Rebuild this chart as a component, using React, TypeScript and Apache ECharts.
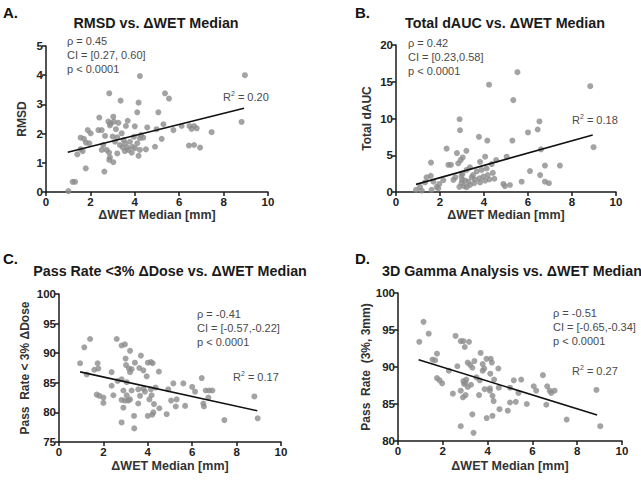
import React, { useEffect, useRef } from "react";
import * as echarts from "echarts";

// ---- Data ----
const xTicksMax = 10;

const rmsdPoints: number[][] = [
  [4.23, 3.97], [8.96, 4.0], [2.85, 3.38], [3.36, 3.13], [4.17, 3.06], [5.36, 3.38], [5.54, 3.2],
  [4.11, 2.73], [5.06, 2.73], [2.4, 2.55], [3.03, 2.58], [2.81, 2.41], [3.06, 2.41], [2.91, 2.35],
  [3.26, 2.37], [3.68, 2.44], [2.88, 2.28], [2.36, 2.12], [2.51, 2.12], [1.88, 2.12], [2.01, 2.01],
  [1.56, 1.86], [1.71, 1.82], [1.8, 1.69], [1.95, 1.67], [1.56, 1.47], [1.41, 1.29], [1.65, 1.4],
  [1.2, 0.35], [1.31, 0.35], [1.01, 0.03], [1.79, 0.81], [2.63, 0.7], [2.73, 1.44], [2.84, 1.35],
  [2.88, 1.19], [2.85, 1.1], [3.03, 1.02], [3.21, 1.32], [3.11, 1.72], [3.21, 1.87], [3.41, 2.01],
  [3.33, 1.61], [3.45, 1.53], [3.56, 1.67], [3.66, 1.53], [3.71, 1.44], [3.78, 1.72], [3.86, 1.35],
  [3.96, 1.89], [4.01, 1.5], [4.11, 1.67], [4.23, 1.84], [4.28, 1.95], [4.38, 1.86], [4.23, 1.44],
  [4.17, 1.24], [4.5, 1.46], [4.56, 2.21], [4.98, 2.15], [4.91, 1.55], [5.21, 1.82], [5.29, 2.32],
  [5.74, 2.12], [6.11, 2.26], [6.46, 2.26], [6.67, 2.26], [6.79, 2.18], [6.56, 2.16], [6.44, 1.59],
  [6.67, 1.61], [6.94, 1.52], [7.46, 2.05], [8.81, 2.4], [3.15, 2.15], [3.6, 2.26], [2.66, 1.92],
  [2.58, 1.61], [2.51, 1.44], [3.5, 1.78], [3.9, 1.55], [3.0, 1.9], [4.0, 2.25], [3.55, 1.4],
];

const daucPoints: number[][] = [
  [5.52, 16.3], [4.23, 14.6], [8.83, 14.4], [5.33, 12.5], [2.89, 9.9], [2.91, 8.4], [6.52, 9.6],
  [6.44, 8.5], [6.0, 8.1], [3.77, 7.5], [4.15, 7.0], [5.29, 7.0], [8.98, 6.1], [2.3, 5.9],
  [3.2, 5.6], [2.77, 5.3], [3.03, 4.7], [2.94, 4.35], [4.05, 4.8], [5.03, 4.8], [6.59, 5.8],
  [2.38, 3.7], [2.5, 3.7], [1.59, 4.0], [2.83, 3.9], [3.82, 4.1], [4.55, 4.35], [4.35, 3.8],
  [3.36, 3.35], [3.21, 3.0], [3.02, 2.5], [3.67, 2.8], [3.89, 3.0], [4.12, 3.2], [6.09, 2.85],
  [6.77, 3.6], [7.45, 3.6], [6.55, 2.3], [6.77, 1.4], [6.95, 1.2], [5.71, 1.4], [5.18, 0.95],
  [4.88, 1.1], [4.95, 0.8], [4.47, 1.8], [4.17, 2.3], [3.97, 2.1], [3.79, 1.85], [3.59, 1.7],
  [3.44, 2.0], [3.29, 1.4], [3.14, 1.55], [2.98, 1.2], [3.09, 0.8], [2.88, 0.7], [3.36, 0.95],
  [2.61, 1.65], [2.98, 2.2], [4.05, 1.55], [4.24, 1.7], [3.82, 1.3], [3.55, 1.2], [3.21, 0.65],
  [1.58, 2.2], [1.39, 2.0], [1.7, 1.4], [1.32, 1.3], [1.85, 0.7], [1.97, 1.1], [1.09, 0.7],
  [0.91, 0.3], [1.17, 0.2], [1.62, 0.3], [1.92, 0.5], [2.15, 1.6], [3.5, 2.3], [2.7, 2.0],
  [4.4, 2.6], [3.0, 1.7],
];

const doseRatePoints: number[][] = [
  [1.4, 92.4], [1.14, 91.0], [2.6, 92.4], [2.82, 91.3], [2.97, 91.5], [3.2, 90.4], [3.69, 89.6],
  [3.0, 89.1], [0.95, 88.3], [1.74, 88.3], [3.42, 88.4], [3.02, 88.0], [4.0, 88.4], [4.14, 88.5],
  [4.22, 88.3], [3.62, 87.5], [1.77, 87.4], [1.59, 87.2], [3.15, 87.4], [3.27, 87.3], [3.8, 87.1],
  [3.2, 86.8], [4.5, 86.9], [2.37, 86.8], [1.25, 86.4], [6.43, 85.8], [5.6, 84.9], [5.15, 84.9],
  [6.0, 84.3], [6.13, 83.5], [6.61, 83.7], [6.76, 83.7], [6.91, 83.7], [6.5, 81.5], [6.53, 81.0],
  [6.73, 82.5], [8.8, 82.7], [8.95, 79.0], [7.45, 78.7], [4.92, 83.9], [5.05, 82.0], [5.3, 82.2],
  [5.26, 81.0], [5.68, 81.1], [4.85, 79.7], [4.52, 80.7], [4.25, 80.0], [4.2, 79.6], [4.0, 79.4],
  [4.35, 84.2], [4.14, 83.9], [4.17, 82.9], [4.07, 82.2], [4.28, 81.4], [3.8, 84.0], [3.57, 83.9],
  [3.65, 82.8], [3.87, 83.5], [3.57, 81.5], [3.38, 79.4], [3.39, 77.3], [2.82, 78.3], [2.9, 80.8],
  [2.97, 82.0], [3.05, 82.9], [3.12, 82.0], [2.82, 82.1], [3.2, 82.2], [3.05, 85.1], [2.82, 85.6],
  [2.64, 85.3], [2.37, 84.5], [2.45, 82.9], [1.7, 83.0], [1.82, 82.8], [2.0, 82.5], [2.0, 81.6],
  [2.9, 83.7], [3.27, 83.7], [3.95, 86.1],
];

const gammaRatePoints: number[][] = [
  [1.14, 96.1], [0.95, 93.4], [1.37, 94.5], [2.57, 94.2], [2.8, 93.5], [2.92, 93.5], [3.17, 93.4],
  [2.98, 92.7], [3.69, 91.9], [1.74, 91.8], [1.54, 91.0], [1.66, 90.9], [2.27, 89.5], [1.74, 88.5],
  [1.86, 88.2], [1.97, 87.8], [2.45, 86.4], [2.65, 90.1], [3.11, 90.6], [3.22, 90.3], [3.41, 90.8],
  [3.32, 89.9], [3.78, 90.4], [3.95, 91.1], [4.14, 91.1], [4.19, 90.6], [4.48, 89.8], [3.78, 89.5],
  [4.12, 89.1], [2.92, 88.1], [3.05, 88.3], [2.95, 87.7], [3.11, 87.3], [3.26, 87.6], [3.65, 88.2],
  [3.62, 86.2], [3.87, 87.0], [4.1, 87.1], [4.1, 86.8], [4.22, 86.1], [4.27, 85.4], [4.5, 87.2],
  [2.8, 86.8], [2.9, 85.9], [3.02, 86.2], [4.53, 84.3], [4.9, 84.1], [5.0, 85.2], [5.26, 85.3],
  [5.17, 88.2], [5.5, 88.3], [5.0, 87.2], [5.38, 86.5], [5.75, 85.0], [6.06, 87.4], [6.17, 86.8],
  [6.47, 88.9], [6.66, 87.4], [6.77, 86.8], [6.84, 86.5], [6.99, 86.8], [6.62, 84.9], [7.53, 82.9],
  [8.86, 86.9], [9.03, 82.0], [3.32, 83.6], [2.8, 82.0], [3.37, 81.1], [3.96, 83.1], [4.22, 83.4],
  [4.29, 88.3], [3.5, 88.6], [3.0, 87.9], [3.85, 89.8],
];

// regression line end points
const rmsdFit: number[][] = [[0.98, 1.36], [8.92, 2.87]];
const daucFit: number[][] = [[0.91, 1.04], [8.94, 7.76]];
const doseRateFit: number[][] = [[0.95, 86.85], [8.93, 80.28]];
const gammaRateFit: number[][] = [[0.92, 90.99], [8.89, 83.51]];

const panelLetters = ["A.", "B.", "C.", "D."];
const panelTitles = [
  "RMSD vs. \u0394WET Median",
  "Total dAUC vs. \u0394WET Median",
  "Pass Rate <3% \u0394Dose vs. \u0394WET Median",
  "3D Gamma Analysis vs. \u0394WET Median",
];
const xAxisName = "\u0394WET Median [mm]";
const yAxisNames = ["RMSD", "Total dAUC", "Pass  Rate < 3% \u0394Dose", "Pass  Rate  (3%, 3mm)"];
const statsTexts = [
  ["\u03c1 = 0.45", "CI = [0.27, 0.60]", "p < 0.0001"],
  ["\u03c1 = 0.42", "CI = [0.23,0.58]", "p < 0.0001"],
  ["\u03c1 = -0.41", "CI = [-0.57,-0.22]", "p < 0.0001"],
  ["\u03c1 = -0.51", "CI = [-0.65,-0.34]", "p < 0.0001"],
];
const r2Texts = ["0.20", "0.18", "0.17", "0.27"];
const yRanges = [
  { min: 0, max: 5, interval: 1 },
  { min: 0, max: 20, interval: 5 },
  { min: 75, max: 100, interval: 5 },
  { min: 80, max: 100, interval: 5 },
];

const pointSets = [rmsdPoints, daucPoints, doseRatePoints, gammaRatePoints];
const fitSets = [rmsdFit, daucFit, doseRateFit, gammaRateFit];

// ---- layout ----
const grids = [
  { left: 46, top: 46, width: 222, height: 146 },
  { left: 396, top: 45, width: 220, height: 147 },
  { left: 59, top: 294, width: 222, height: 148 },
  { left: 398, top: 293, width: 224, height: 148 },
];
const yNameGaps = [18, 23, 28, 24];
const xNameGaps = [13, 13, 17, 18];
const letterPos = [[3, 12], [355, 12], [3, 258], [355, 258]];
const titlePos = [[156, 23], [505, 23], [170, 271], [512, 271]];
const statsPos = [[67, 41], [408, 43], [197, 314], [553, 313]];
const r2Pos = [[223, 97], [572, 120], [233, 377], [572, 371]];

const FONT = "'Liberation Sans', Arial, sans-serif";
const AXIS_COLOR = "#1a1a1a";
const STAT_COLOR = "#4a4a4a";

export default function App() {
  const ref = useRef<HTMLDivElement>(null);

  useEffect(() => {
    document.body.style.margin = "0";
    if (!ref.current) return;
    const chart = echarts.init(ref.current, undefined, { renderer: "svg" });

    const xAxis = grids.map((_, i) => ({
      type: "value",
      gridIndex: i,
      min: 0,
      max: xTicksMax,
      interval: 2,
      name: xAxisName,
      nameLocation: "middle",
      nameGap: xNameGaps[i],
      nameTextStyle: { fontFamily: FONT, fontWeight: "bold", fontSize: 12.5, color: "#333" },
      axisLine: { show: true, onZero: false, lineStyle: { color: AXIS_COLOR, width: 1.5 } },
      axisTick: { show: true, inside: false, length: 4, lineStyle: { color: AXIS_COLOR, width: 1.5 } },
      axisLabel: { fontFamily: FONT, fontWeight: "bold", fontSize: 11.5, color: "#222", margin: 4 },
      splitLine: { show: false },
    }));

    const yAxis = grids.map((_, i) => ({
      type: "value",
      gridIndex: i,
      min: yRanges[i].min,
      max: yRanges[i].max,
      interval: yRanges[i].interval,
      name: yAxisNames[i],
      nameLocation: "middle",
      nameGap: yNameGaps[i],
      nameTextStyle: { fontFamily: FONT, fontWeight: "bold", fontSize: 12, color: "#333" },
      axisLine: { show: true, onZero: false, lineStyle: { color: AXIS_COLOR, width: 1.5 } },
      axisTick: { show: true, inside: false, length: 4, lineStyle: { color: AXIS_COLOR, width: 1.5 } },
      axisLabel: { fontFamily: FONT, fontWeight: "bold", fontSize: 11.5, color: "#222", margin: 3 },
      splitLine: { show: false },
    }));

    const series: any[] = [];
    pointSets.forEach((pts, i) => {
      series.push({
        type: "scatter",
        xAxisIndex: i,
        yAxisIndex: i,
        data: pts,
        symbol: "circle",
        symbolSize: 6,
        itemStyle: { color: "#8c8c8c" },
        silent: true,
      });
      series.push({
        type: "line",
        xAxisIndex: i,
        yAxisIndex: i,
        data: fitSets[i],
        showSymbol: false,
        lineStyle: { color: "#111", width: 1.6 },
        silent: true,
      });
    });

    const graphic: any[] = [];
    panelLetters.forEach((t, i) => {
      graphic.push({
        type: "text",
        x: letterPos[i][0],
        y: letterPos[i][1],
        style: { text: t, font: `bold 15px ${FONT}`, fill: "#111", textVerticalAlign: "middle" },
      });
      graphic.push({
        type: "text",
        x: titlePos[i][0],
        y: titlePos[i][1],
        style: {
          text: panelTitles[i],
          font: `bold 14.3px ${FONT}`,
          fill: "#1a1a1a",
          textAlign: "center",
          textVerticalAlign: "middle",
        },
      });
      statsTexts[i].forEach((s, k) => {
        graphic.push({
          type: "text",
          x: statsPos[i][0],
          y: statsPos[i][1] + k * 14,
          style: { text: s, font: `11px ${FONT}`, fill: STAT_COLOR, textVerticalAlign: "middle" },
        });
      });
      graphic.push({
        type: "text",
        x: r2Pos[i][0],
        y: r2Pos[i][1],
        style: {
          rich: {
            b: { fontFamily: FONT, fontSize: 11, fill: STAT_COLOR, color: STAT_COLOR },
            s: { fontFamily: FONT, fontSize: 7, color: STAT_COLOR, verticalAlign: "top", lineHeight: 14 },
          },
          text: `{b|R}{s|2}{b| = ${r2Texts[i]}}`,
          fill: STAT_COLOR,
          textVerticalAlign: "middle",
        },
      });
    });

    chart.setOption({
      animation: false,
      backgroundColor: "#ffffff",
      grid: grids.map((g) => ({ ...g, containLabel: false })),
      xAxis,
      yAxis,
      series,
      graphic,
    });

    return () => chart.dispose();
  }, []);

  return <div ref={ref} style={{ width: 641, height: 481 }} />;
}
